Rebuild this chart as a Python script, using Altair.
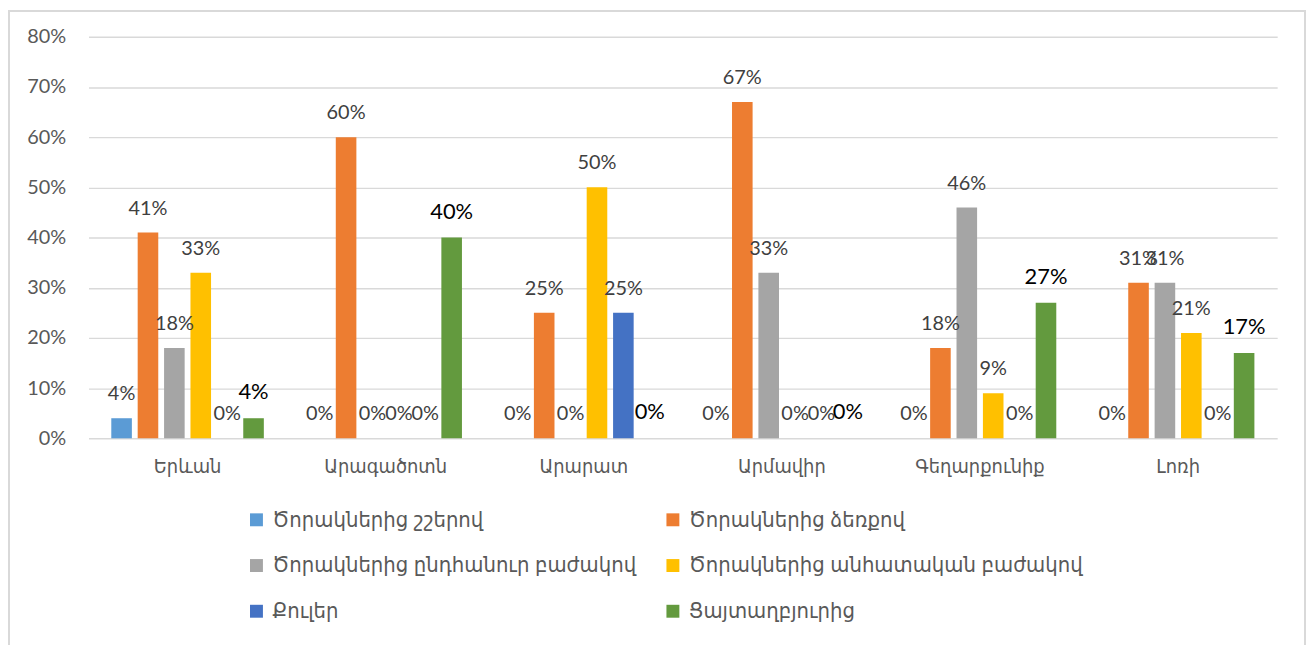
import altair as alt
import pandas as pd

regions = ["Երևան", "Արագածոտն", "Արարատ", "Արմավիր", "Գեղարքունիք", "Լոռի"]
series = [
    "Ծորակներից շշերով",
    "Ծորակներից ձեռքով",
    "Ծորակներից ընդհանուր բաժակով",
    "Ծորակներից անհատական բաժակով",
    "Քուլեր",
    "Ցայտաղբյուրից",
]
colors = ["#5B9BD5", "#ED7D31", "#A5A5A5", "#FFC000", "#4472C4", "#639A3E"]

# percent values, one list per series (in region order)
s1 = [4, 0, 0, 0, 0, 0]
s2 = [41, 60, 25, 67, 18, 31]
s3 = [18, 0, 0, 33, 46, 31]
s4 = [33, 0, 50, 0, 9, 21]
s5 = [0, 0, 25, 0, 0, 0]
s6 = [4, 40, 0, 0, 27, 17]
y_ticks = [0, 0.1, 0.2, 0.3, 0.4, 0.5, 0.6, 0.7, 0.8]

rows = []
for name, vals in zip(series, [s1, s2, s3, s4, s5, s6]):
    for r, v in zip(regions, vals):
        rows.append({"region": r, "series": name, "value": v / 100})
df = pd.DataFrame(rows)

# legend fills column by column: list entries so rows read pairwise
legend_order = [series[0], series[2], series[4], series[1], series[3], series[5]]

FONT = "Lato, DejaVu Sans Condensed, DejaVu Sans, sans-serif"

x_enc = alt.X("region:N", sort=regions,
              scale=alt.Scale(paddingInner=0.23, paddingOuter=0.115),
              axis=alt.Axis(title=None, labelAngle=0, ticks=False, domain=False,
                            labelPadding=18, labelFontSize=20, labelColor="#595959",
                            labelFont=FONT, grid=False))
xo_enc = alt.XOffset("series:N", sort=series,
                     scale=alt.Scale(paddingInner=0.22, paddingOuter=0))

base = alt.Chart(df)

bars = base.mark_bar().encode(
    x=x_enc,
    xOffset=xo_enc,
    y=alt.Y("value:Q", scale=alt.Scale(domain=[0, 0.8], nice=False),
            axis=alt.Axis(title=None, format=".0%", values=y_ticks, ticks=False,
                          domain=False, labelPadding=23, labelFontSize=20,
                          labelColor="#595959", labelFont=FONT,
                          gridColor="#D9D9D9", gridWidth=1.4)),
    color=alt.Color("series:N", sort=series,
                    scale=alt.Scale(domain=series, range=colors),
                    legend=alt.Legend(title=None, orient="none", legendX=158, legendY=475,
                                      values=legend_order,
                                      columns=2, columnPadding=25, rowPadding=24,
                                      symbolType="square", symbolSize=169,
                                      symbolStrokeWidth=0, labelFontSize=22,
                                      labelColor="#595959", labelFont=FONT,
                                      labelOffset=5, padding=0, labelLimit=600)),
)

labels = base.transform_filter(alt.datum.series != series[5]).mark_text(
    baseline="bottom", dy=-14, fontSize=20, color="#404040", font=FONT
).encode(
    x=alt.X("region:N", sort=regions),
    xOffset=xo_enc,
    y="value:Q",
    text=alt.Text("value:Q", format=".0%"),
)

labels_green = base.transform_filter(alt.datum.series == series[5]).mark_text(
    baseline="bottom", dy=-14, fontSize=22, color="#000000", font=FONT
).encode(
    x=alt.X("region:N", sort=regions),
    xOffset=xo_enc,
    y="value:Q",
    text=alt.Text("value:Q", format=".0%"),
)

frame = alt.Chart(pd.DataFrame({"a": [0]})).mark_rect(
    fillOpacity=0, stroke="#D9D9D9", strokeWidth=2
).encode(x=alt.value(-80), x2=alt.value(1224), y=alt.value(-26), y2=alt.value(700))

chart = alt.layer(bars, labels, labels_green, frame).properties(
    width=1196, height=404,
    autosize=alt.AutoSizeParams(type="none"),
    padding={"left": 81, "top": 27, "right": 29, "bottom": 206},
).configure_view(stroke=None)

chart.save("out.html", embed_options={"renderer": "svg", "actions": False})
